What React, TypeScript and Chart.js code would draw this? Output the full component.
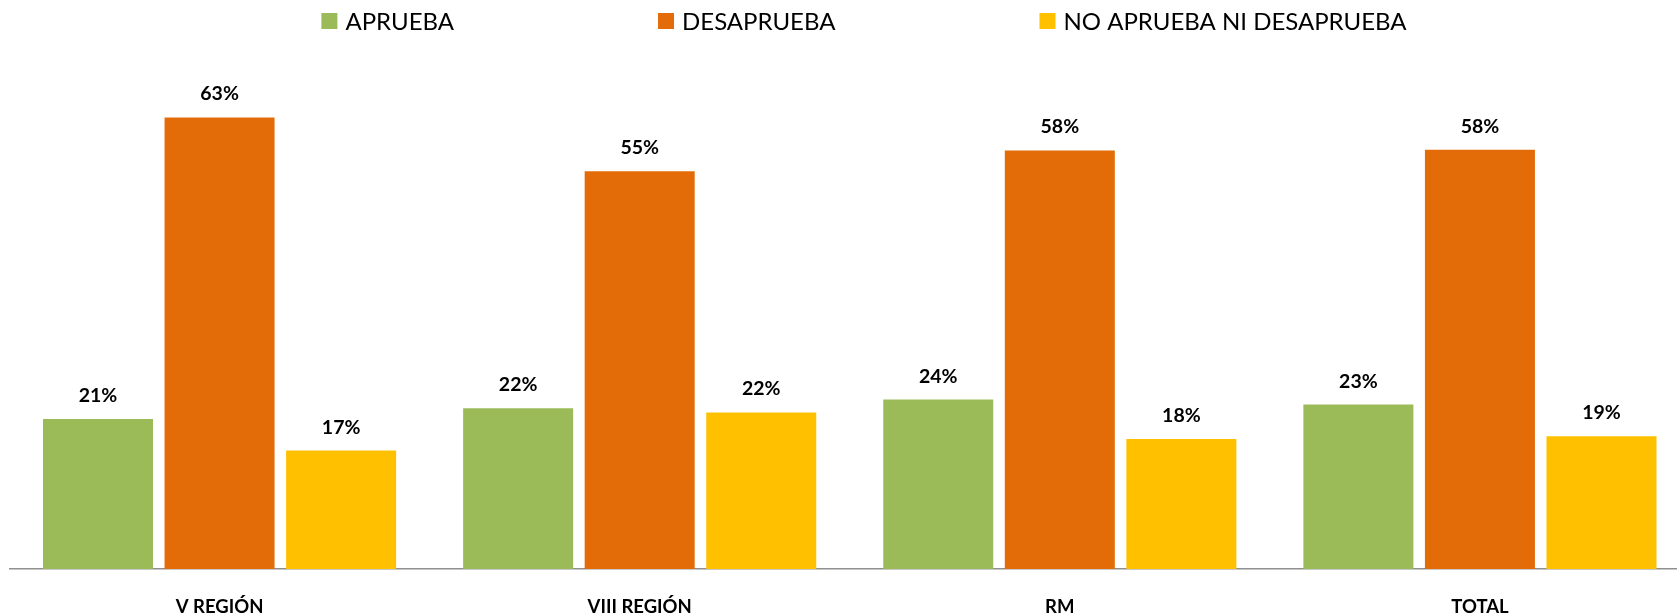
import React, { useEffect, useRef } from "react";
import { Chart, registerables } from "chart.js";

Chart.register(...registerables);

const categories = ["V REGIÓN", "VIII REGIÓN", "RM", "TOTAL"];
const seriesNames = ["APRUEBA", "DESAPRUEBA", "NO APRUEBA NI DESAPRUEBA"];
const aprueba = [20.9, 22.4, 23.6, 22.9];
const desaprueba = [62.9, 55.4, 58.3, 58.4];
const noApruebaNiDesaprueba = [16.5, 21.8, 18.1, 18.5];
const seriesColors = ["#9BBB59", "#E36C09", "#FFC000"];

const FONT = "Lato, 'Open Sans', sans-serif";

const valueLabelPlugin = {
  id: "valueLabels",
  afterDatasetsDraw(chart: any) {
    const ctx = chart.ctx;
    ctx.save();
    ctx.font = `bold 19.5px ${FONT}`;
    ctx.fillStyle = "#000000";
    ctx.textAlign = "center";
    ctx.textBaseline = "alphabetic";
    chart.data.datasets.forEach((ds: any, i: number) => {
      const meta = chart.getDatasetMeta(i);
      meta.data.forEach((bar: any, j: number) => {
        const v = ds.data[j];
        ctx.fillText(Math.round(v) + "%", bar.x, bar.y - 17);
      });
    });
    ctx.restore();
  },
};

const legendPlugin = {
  id: "customLegend",
  afterDraw(chart: any) {
    const ctx = chart.ctx;
    ctx.save();
    ctx.font = `24px ${FONT}`;
    const box = 16;
    const gapText = 8;
    const gapItem = 204;
    const center = 864;
    const dss = chart.data.datasets;
    const widths = dss.map((d: any) => ctx.measureText(d.label).width);
    const total =
      widths.reduce((a: number, w: number) => a + box + gapText + w, 0) +
      gapItem * (dss.length - 1);
    let x = center - total / 2;
    ctx.textBaseline = "middle";
    ctx.textAlign = "left";
    dss.forEach((d: any, i: number) => {
      ctx.fillStyle = d.backgroundColor;
      ctx.fillRect(x, 13, box, box);
      ctx.fillStyle = "#000000";
      ctx.fillText(d.label, x + box + gapText, 22);
      x += box + gapText + widths[i] + gapItem;
    });
    ctx.restore();
  },
};

export default function App() {
  const canvasRef = useRef<HTMLCanvasElement | null>(null);

  useEffect(() => {
    let chart: Chart | null = null;
    let cancelled = false;
    const build = () => {
      if (cancelled || !canvasRef.current) return;
      chart = new Chart(canvasRef.current, {
        type: "bar",
        data: {
          labels: categories,
          datasets: [aprueba, desaprueba, noApruebaNiDesaprueba].map((d, i) => ({
            label: seriesNames[i],
            data: d,
            backgroundColor: seriesColors[i],
            borderWidth: 0,
            categoryPercentage: 0.868,
            barPercentage: 0.905,
          })),
        },
        options: {
          responsive: false,
          animation: false,
          layout: { padding: { left: 9.5, right: 0, top: 66.4, bottom: 0 } },
          plugins: {
            legend: { display: false },
            tooltip: { enabled: false },
          },
          scales: {
            x: {
              grid: { display: false, drawTicks: false },
              border: { display: true, color: "#8f8f8f", width: 1.5 },
              ticks: {
                color: "#000000",
                padding: 29,
                font: { family: FONT, size: 18.5, weight: "bold", lineHeight: 1 },
              },
              afterFit: (scale: any) => {
                scale.height = 45;
              },
            },
            y: {
              display: false,
              min: 0,
              max: 70,
            },
          },
        },
        plugins: [valueLabelPlugin, legendPlugin],
      });
    };
    const fontsApi = (document as any).fonts;
    if (fontsApi && fontsApi.load) {
      Promise.all([
        fontsApi.load(`24px Lato`),
        fontsApi.load(`bold 19px Lato`),
      ])
        .catch(() => {})
        .then(build);
    } else {
      build();
    }
    return () => {
      cancelled = true;
      if (chart) chart.destroy();
    };
  }, []);

  return (
    <div
      style={{
        position: "fixed",
        left: 0,
        top: 0,
        width: 1677,
        height: 614,
        overflow: "hidden",
        background: "#ffffff",
      }}
    >
      <canvas
        ref={canvasRef}
        width={1690}
        height={614}
        style={{ width: 1690, height: 614, display: "block" }}
      />
    </div>
  );
}
